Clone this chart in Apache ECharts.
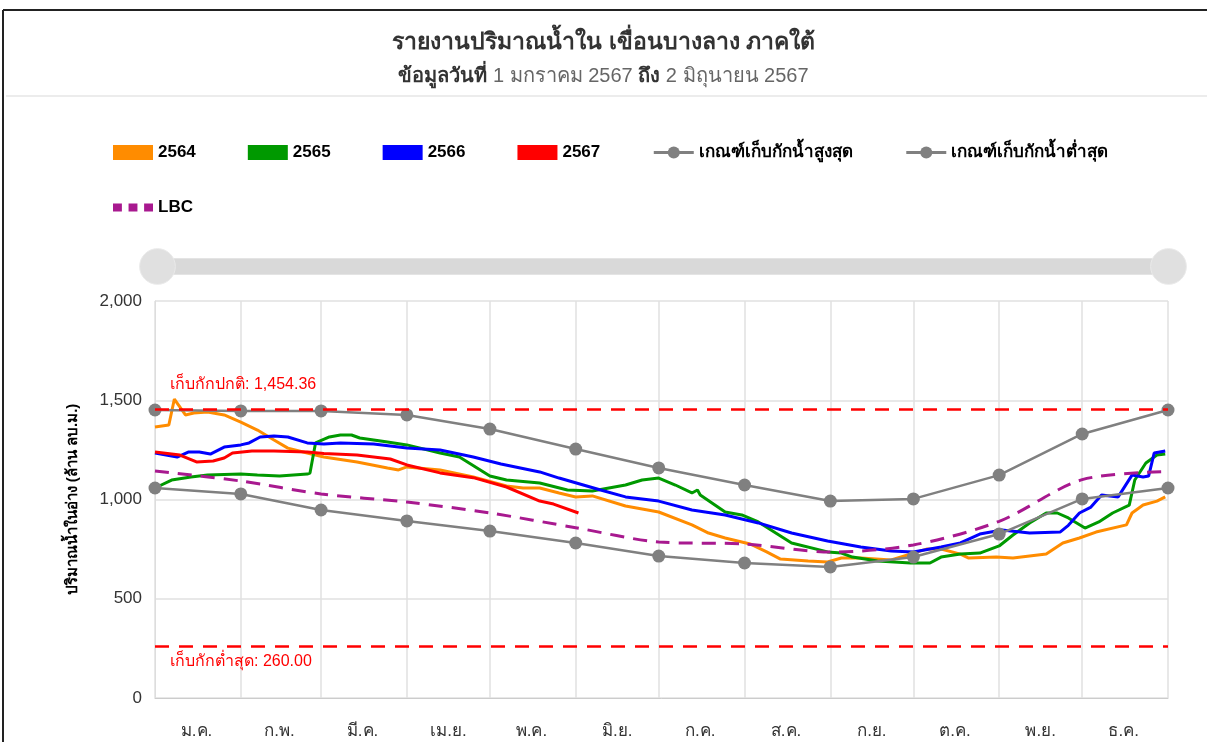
<!DOCTYPE html>
<html>
<head>
    <meta charset="UTF-8">
    <title>เขื่อนบางลาง</title>
    <script src="https://cdn.jsdelivr.net/npm/echarts@6/dist/echarts.min.js"></script>
    <style>
        html, body { margin: 0; padding: 0; background: #fff; }
        #main { width: 1207px; height: 742px; }
    </style>
</head>
<body>
<div id="main"></div>
<script>
    var monthNames = ['ม.ค.', 'ก.พ.', 'มี.ค.', 'เม.ย.', 'พ.ค.', 'มิ.ย.', 'ก.ค.', 'ส.ค.', 'ก.ย.', 'ต.ค.', 'พ.ย.', 'ธ.ค.'];
    var monthStarts = [0, 31, 60, 91, 121, 152, 182, 213, 244, 274, 305, 335, 366];

    // เกณฑ์ (ค่าต้นเดือน)
    var ruleMax = [1451, 1446, 1446, 1426, 1355, 1254, 1159, 1073, 992, 1003, 1123, 1330, 1451];
    var ruleMin = [1058, 1028, 947, 892, 841, 781, 715, 680, 660, 710, 826, 1003, 1058];
    var lbc = [1144, 1093, 1028, 987, 932, 858, 786, 776, 735, 771, 890, 1100, 1140];

    var normalLevel = 1454.36;
    var lowLevel = 260.00;

    // [วันที่ของปี, ปริมาณน้ำ]
    var s2564 = [[0, 1365], [5, 1375], [7, 1506], [8, 1486], [11, 1426], [14, 1436], [19, 1441], [25, 1426],
        [31, 1390], [37, 1350], [43, 1300], [48, 1259], [55, 1234], [61, 1214], [73, 1189], [84, 1159],
        [88, 1149], [91, 1164], [103, 1149], [115, 1113], [127, 1068], [133, 1058], [139, 1058], [146, 1033],
        [152, 1013], [158, 1018], [170, 967], [182, 937], [194, 872], [200, 831], [206, 806], [215, 776],
        [221, 736], [226, 700], [236, 690], [243, 685], [248, 705], [255, 705], [266, 695], [279, 751],
        [284, 751], [291, 725], [294, 705], [304, 710], [310, 705], [322, 725], [328, 781], [334, 806],
        [340, 836], [351, 872], [353, 932], [357, 972], [362, 992], [365, 1013]];
    var s2565 = [[0, 1058], [6, 1098], [13, 1113], [19, 1123], [31, 1128], [37, 1123], [45, 1118], [55, 1128],
        [56, 1133], [58, 1285], [63, 1315], [67, 1325], [71, 1325], [74, 1310], [79, 1300], [84, 1290],
        [91, 1275], [103, 1234], [110, 1214], [121, 1118], [127, 1098], [139, 1083], [149, 1048], [158, 1043],
        [164, 1058], [170, 1073], [176, 1098], [182, 1108], [188, 1073], [194, 1033], [196, 1048], [197, 1023],
        [206, 937], [212, 922], [218, 887], [230, 781], [243, 736], [248, 730], [252, 710], [261, 690],
        [273, 680], [280, 680], [284, 710], [291, 725], [298, 730], [305, 766], [310, 821], [316, 882],
        [322, 932], [326, 932], [330, 907], [336, 856], [341, 887], [346, 932], [352, 972], [354, 1098],
        [358, 1184], [362, 1224], [365, 1229]];
    var s2566 = [[0, 1234], [8, 1214], [12, 1239], [16, 1239], [20, 1229], [25, 1264], [31, 1275], [34, 1285],
        [38, 1315], [43, 1320], [48, 1315], [55, 1285], [61, 1280], [67, 1285], [79, 1280], [85, 1270],
        [91, 1259], [103, 1249], [115, 1214], [125, 1179], [139, 1139], [146, 1108], [161, 1048], [170, 1013],
        [182, 992], [194, 947], [206, 922], [218, 882], [230, 831], [243, 791], [255, 761], [266, 741],
        [274, 736], [284, 761], [291, 781], [298, 826], [306, 846], [316, 831], [327, 836], [330, 870],
        [334, 932], [338, 960], [342, 1023], [348, 1013], [353, 1123], [357, 1113], [359, 1118], [361, 1234],
        [365, 1244]];
    var s2567 = [[0, 1239], [9, 1224], [15, 1189], [21, 1194], [25, 1209], [28, 1234], [35, 1244], [43, 1244],
        [55, 1239], [61, 1232], [73, 1224], [85, 1204], [91, 1174], [103, 1134], [115, 1110], [127, 1063],
        [139, 992], [144, 977], [153, 932]];

    var days = [];
    for (var i = 0; i <= 366; i++) days.push(i);

    function monthlyPoints(values) {
        return values.map(function (v, k) { return [monthStarts[k], v]; });
    }
    function midMonthIndex(index) {
        for (var m = 0; m < 12; m++) {
            if (index === Math.floor((monthStarts[m] + monthStarts[m + 1]) / 2)) return m;
        }
        return -1;
    }

    var fontFamily = 'sans-serif';
    var myChart = echarts.init(document.getElementById('main'));

    var option = {
        backgroundColor: '#fff',
        textStyle: { fontFamily: fontFamily },
        animation: false,
        title: {
            text: 'รายงานปริมาณน้ำใน เขื่อนบางลาง ภาคใต้',
            subtext: '{b|ข้อมูลวันที่} 1 มกราคม 2567 {b|ถึง} 2 มิถุนายน 2567',
            left: 'center',
            top: 26,
            itemGap: 12,
            textStyle: { fontSize: 23, fontWeight: 'bold', color: '#333' },
            subtextStyle: {
                fontSize: 20, color: '#666',
                rich: { b: { fontSize: 20, fontWeight: 'bold', color: '#333' } }
            }
        },
        graphic: [
            { type: 'line', shape: { x1: 3, y1: 10, x2: 1207, y2: 10 }, style: { stroke: '#222', lineWidth: 2 } },
            { type: 'line', shape: { x1: 3, y1: 10, x2: 3, y2: 742 }, style: { stroke: '#222', lineWidth: 2 } },
            { type: 'line', shape: { x1: 6, y1: 96, x2: 1207, y2: 96 }, style: { stroke: '#e6e6e6', lineWidth: 1.5 } }
        ],
        legend: [{
            left: 113, top: 144, padding: 0,
            itemWidth: 40, itemHeight: 15, itemGap: 52,
            textStyle: { fontSize: 17, fontWeight: 'bold', color: '#000' },
            data: [
                { name: '2564', icon: 'rect' },
                { name: '2565', icon: 'rect' },
                { name: '2566', icon: 'rect' },
                { name: '2567', icon: 'rect' },
                { name: 'เกณฑ์เก็บกักน้ำสูงสุด', lineStyle: { width: 3 } },
                { name: 'เกณฑ์เก็บกักน้ำต่ำสุด', lineStyle: { width: 3 } }
            ]
        }, {
            left: 113, top: 199, padding: 0,
            itemWidth: 40, itemHeight: 15,
            textStyle: { fontSize: 17, fontWeight: 'bold', color: '#000' },
            data: [{ name: 'LBC', icon: 'path://M0,0h8v7h-8z M14,0h8v7h-8z M28,0h8v7h-8z' }]
        }],
        dataZoom: [{
            type: 'slider', xAxisIndex: 0, filterMode: 'none',
            left: 155, right: 39, top: 258, height: 17,
            showDetail: false, showDataShadow: false, brushSelect: false,
            moveHandleSize: 0,
            backgroundColor: '#d9d9d9', fillerColor: '#d9d9d9', borderColor: '#e4e4e4',
            handleIcon: 'circle', handleSize: '210%',
            handleStyle: { color: '#e0e0e0', borderColor: '#eaeaea' },
            dataBackground: { lineStyle: { opacity: 0 }, areaStyle: { opacity: 0 } }
        }],
        grid: { left: 155, right: 39, top: 301, bottom: 44 },
        xAxis: {
            type: 'category',
            boundaryGap: false,
            data: days,
            axisLine: { lineStyle: { color: '#ccc' } },
            axisTick: { show: false },
            axisLabel: {
                interval: function (index) { return midMonthIndex(index) >= 0; },
                formatter: function (value, index) { return monthNames[midMonthIndex(index)]; },
                fontSize: 17, color: '#333', margin: 25
            },
            splitLine: {
                show: true,
                interval: function (index) { return monthStarts.indexOf(index) >= 0; },
                lineStyle: { color: '#e0e0e0', width: 1.5 }
            }
        },
        yAxis: {
            type: 'value',
            min: 0, max: 2000, interval: 500,
            name: 'ปริมาณน้ำในอ่าง (ล้าน ลบ.ม.)',
            nameLocation: 'middle', nameRotate: 90, nameGap: 75,
            nameTextStyle: { fontSize: 15, fontWeight: 'bold', color: '#000' },
            axisLine: { show: true, lineStyle: { color: '#ddd' } },
            axisLabel: {
                fontSize: 17, color: '#333', margin: 13,
                formatter: function (v) { return v.toLocaleString('en-US'); }
            },
            splitLine: { lineStyle: { color: '#e0e0e0', width: 1.5 } }
        },
        series: [
            {
                name: '2564', type: 'line', data: s2564, symbol: 'none',
                itemStyle: { color: '#ff8c00' }, lineStyle: { width: 3 }
            },
            {
                name: '2565', type: 'line', data: s2565, symbol: 'none',
                itemStyle: { color: '#009900' }, lineStyle: { width: 3 }
            },
            {
                name: '2566', type: 'line', data: s2566, symbol: 'none',
                itemStyle: { color: '#0000ff' }, lineStyle: { width: 3 }
            },
            {
                name: '2567', type: 'line', data: s2567, symbol: 'none',
                itemStyle: { color: '#ff0000' }, lineStyle: { width: 3 },
                markLine: {
                    silent: true, symbol: 'none',
                    lineStyle: { color: '#ff0000', type: [14, 10], width: 2.5 },
                    data: [
                        {
                            yAxis: normalLevel,
                            label: {
                                position: 'insideStartTop', distance: [15, 17],
                                color: '#ff0000', fontSize: 16,
                                formatter: 'เก็บกักปกติ: ' + normalLevel.toLocaleString('en-US', { minimumFractionDigits: 2 })
                            }
                        },
                        {
                            yAxis: lowLevel,
                            label: {
                                position: 'insideStartBottom', distance: [15, 7],
                                color: '#ff0000', fontSize: 16,
                                formatter: 'เก็บกักต่ำสุด: ' + lowLevel.toFixed(2)
                            }
                        }
                    ]
                }
            },
            {
                name: 'เกณฑ์เก็บกักน้ำสูงสุด', type: 'line', data: monthlyPoints(ruleMax),
                symbol: 'circle', symbolSize: 13, showSymbol: true, showAllSymbol: true,
                itemStyle: { color: '#808080' }, lineStyle: { width: 2.5 }
            },
            {
                name: 'เกณฑ์เก็บกักน้ำต่ำสุด', type: 'line', data: monthlyPoints(ruleMin),
                symbol: 'circle', symbolSize: 13, showSymbol: true, showAllSymbol: true,
                itemStyle: { color: '#808080' }, lineStyle: { width: 2.5 }
            },
            {
                name: 'LBC', type: 'line', data: monthlyPoints(lbc), symbol: 'none', smooth: 0.3,
                itemStyle: { color: '#a8198f' }, lineStyle: { width: 3, type: [14, 9] }
            }
        ]
    };

    myChart.setOption(option);
</script>
</body>
</html>
